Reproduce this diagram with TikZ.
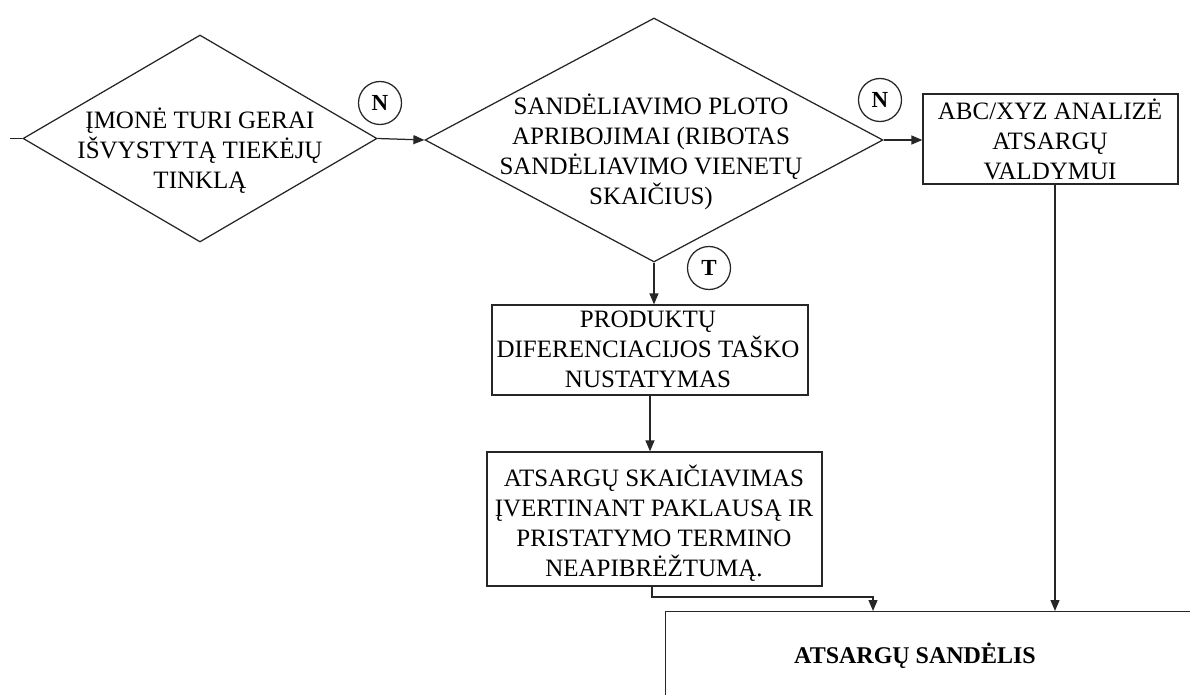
\documentclass[tikz,border=0pt]{standalone}
\usepackage{fontspec}
\setmainfont{Liberation Serif}
\usetikzlibrary{shapes.geometric,arrows.meta}
\tikzset{
  ln/.style={line width=1.25pt, draw=black!85},
  arr/.style={ln, -{Triangle[length=11pt,width=9pt]}},
  dmd/.style={ln, diamond, inner sep=0pt, shape aspect=1},
  boxn/.style={ln, rectangle, inner sep=0pt},
  txt/.style={align=center, inner sep=0pt, font=\fontsize{25}{30}\selectfont},
  circ/.style={ln, circle, minimum size=43pt, inner sep=0pt, font=\fontsize{23}{24}\selectfont\bfseries},
}
\begin{document}
\begin{tikzpicture}[x=1pt,y=-1pt]
\useasboundingbox (0,0) rectangle (1190,695);
\fill[white] (0,0) rectangle (1190,695);
\clip (0,0) rectangle (1190,695);

% diamonds
\node[dmd, minimum width=354pt, minimum height=207pt] (d1) at (200,138.5) {};
\node[txt] (d1t) at (200,151) {ĮMONĖ TURI GERAI\\IŠVYSTYTĄ TIEKĖJŲ\\TINKLĄ};

\node[dmd, minimum width=458pt, minimum height=244pt] (d2) at (654,140) {};
\node[txt] (d2t) at (651,152) {SANDĖLIAVIMO PLOTO\\APRIBOJIMAI (RIBOTAS\\SANDĖLIAVIMO VIENETŲ\\SKAIČIUS)};

% boxes
\node[boxn, minimum width=255pt, minimum height=90pt] (abc) at (1050.5,139) {};
\node[txt] (abct) at (1050,139) {ABC/XYZ ANALIZĖ\\ATSARGŲ\\VALDYMUI};

\node[boxn, minimum width=316pt, minimum height=90pt] (p1) at (650,350) {};
\node[txt] (p1t) at (648,349) {PRODUKTŲ\\DIFERENCIACIJOS TAŠKO\\NUSTATYMAS};

\node[boxn, minimum width=335pt, minimum height=134pt] (p2) at (654.5,519) {};
\node[txt] (p2t) at (654,523) {ATSARGŲ SKAIČIAVIMAS\\ĮVERTINANT PAKLAUSĄ IR\\PRISTATYMO TERMINO\\NEAPIBRĖŽTUMĄ.};

\node[boxn, minimum width=700pt, minimum height=200pt, anchor=north west] (big) at (665,611) {};
\node[txt, font=\fontsize{24}{28}\selectfont\bfseries] (bigt) at (915,656) {ATSARGŲ SANDĖLIS};

% circles
\node[circ] (n1) at (380,103) {N};
\node[circ] (n2) at (880,100) {N};
\node[circ] (t1) at (709,268) {T};

% connectors
\coordinate (in) at (10,138.5);
\draw[ln] (in) -- (d1.west);
\draw[arr] (d1.east) -- (d2.west);
\draw[arr] (d2.east) -- (abc.west |- d2.east);
\draw[arr] (d2.south) -- (d2.south |- p1.north);
\draw[arr] (p1.south) -- (p1.south |- p2.north);
\coordinate (j) at (873,597);
\draw[arr] ([xshift=-2.5pt]p2.south) |- (j) -- (j |- big.north);
\draw[arr] ([xshift=4.5pt]abc.south) -- ([xshift=4.5pt]abc.south |- big.north);
\end{tikzpicture}
\end{document}
